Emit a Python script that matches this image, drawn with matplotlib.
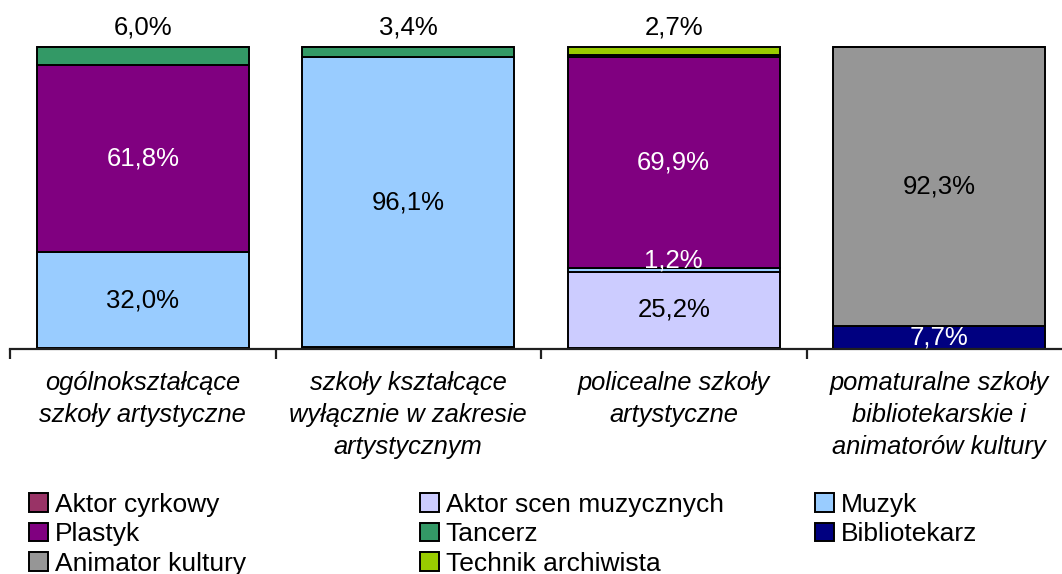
import matplotlib
matplotlib.use("Agg")
import matplotlib.pyplot as plt
from matplotlib.patches import Patch
import numpy as np

plt.rcParams['font.family'] = ['Liberation Sans', 'DejaVu Sans']

categories = [
    "ogólnokształcące\nszkoły artystyczne",
    "szkoły kształcące\nwyłącznie w zakresie\nartystycznym",
    "policealne szkoły\nartystyczne",
    "pomaturalne szkoły\nbibliotekarskie i\nanimatorów kultury",
]

series_names = ["Aktor cyrkowy", "Aktor scen muzycznych", "Muzyk", "Plastyk",
                "Tancerz", "Bibliotekarz", "Animator kultury", "Technik archiwista"]
colors = ["#993366", "#CCCCFF", "#99CCFF", "#800080",
          "#339966", "#000080", "#969696", "#99CC00"]
label_colors = ["white", "black", "black", "white",
                "white", "white", "black", "black"]

aktor_cyrkowy = [0.2, 0.5, 0.4, 0.0]
aktor_scen = [0.0, 0.0, 25.2, 0.0]
muzyk = [32.0, 96.1, 1.2, 0.0]
plastyk = [61.8, 0.0, 69.9, 0.0]
tancerz = [6.0, 3.4, 0.6, 0.0]
bibliotekarz = [0.0, 0.0, 0.0, 7.7]
animator = [0.0, 0.0, 0.0, 92.3]
technik = [0.0, 0.0, 2.7, 0.0]

series = [aktor_cyrkowy, aktor_scen, muzyk, plastyk, tancerz, bibliotekarz, animator, technik]

fig = plt.figure(figsize=(10.62, 5.74), dpi=100)
ax = fig.add_axes([10 / 1062, 225 / 574, 1.0, 302 / 574])

x = np.arange(len(categories))
bottom = np.zeros(len(categories))
for vals, col in zip(series, colors):
    vals = np.array(vals)
    ax.bar(x, vals, 0.8, bottom=bottom, color=col, edgecolor="black",
           linewidth=1.4, clip_on=False)
    bottom += vals

# value labels
bottom = np.zeros(len(categories))
for k, vals in enumerate(series):
    for i, v in enumerate(vals):
        if v >= 1.0:
            txt = f"{v:.1f}".replace(".", ",") + "%"
            top_seg = all(s[i] < 1.0 for s in series[k + 1:])
            if top_seg and v < 10:
                ax.text(x[i], bottom[i] + v + 6.5, txt,
                        ha="center", va="center", fontsize=18.5, color="black")
            else:
                yc = bottom[i] + v / 2
                tc = label_colors[k]
                if v < 2:
                    # thin slice: text sits on the segment above
                    yc += 3.0
                    tc = "white"
                ax.text(x[i], yc, txt, ha="center", va="center", fontsize=18.5, color=tc)
    bottom += np.array(vals)

ax.set_xlim(-0.5, 3.5)
ax.set_ylim(0, 100)
for s in ["top", "right", "left"]:
    ax.spines[s].set_visible(False)
ax.spines["bottom"].set_linewidth(1.6)
ax.spines["bottom"].set_color("#202020")
ax.set_yticks([])

ax.set_xticks(np.arange(-0.5, 4.0, 1.0))
ax.set_xticklabels([])
ax.tick_params(axis="x", which="major", direction="out", length=7, width=1.6, color="#202020")
ax.set_xticks(x, minor=True)
ax.set_xticklabels(categories, minor=True, fontsize=18.4, style="italic", linespacing=1.42)
ax.tick_params(axis="x", which="minor", length=0, pad=16)

# legend, three columns placed like the original
handles = [Patch(facecolor=c, edgecolor="black", linewidth=1.4) for c in colors]
groups = [[0, 3, 6], [1, 4, 7], [2, 5]]
xs = [29, 420, 815]
for g, xp in zip(groups, xs):
    fig.legend([handles[i] for i in g], [series_names[i] for i in g],
               loc="upper left", bbox_to_anchor=(xp / 1062, 1 - 493 / 574),
               frameon=False, fontsize=19, handlelength=0.72, handleheight=0.72,
               handletextpad=0.25, labelspacing=0.2, borderpad=0, borderaxespad=0)

fig.savefig("out.png", dpi=100)
